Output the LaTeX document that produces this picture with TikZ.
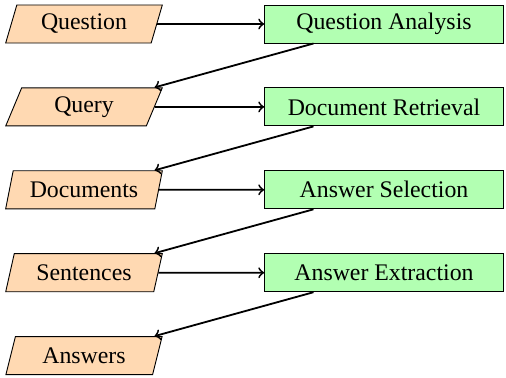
\documentclass[tikz,border=0pt]{standalone}
\usepackage{fontspec}
\setmainfont{Liberation Serif}
\usetikzlibrary{shapes.geometric}
\begin{document}
\begin{tikzpicture}[
    data/.style={trapezium, trapezium left angle=70, trapezium right angle=110,
      trapezium stretches=true, draw, fill=orange!30,
      minimum width=2.43cm, minimum height=0.59cm, inner sep=0pt,
      font=\fontsize{10.5}{12}\selectfont},
    task/.style={rectangle, draw, fill=green!30,
      minimum width=3.7cm, minimum height=0.59cm, inner sep=0pt,
      font=\fontsize{10.5}{12}\selectfont},
    flow/.style={->, thick}
  ]
      \useasboundingbox (-1.302,0.372) rectangle (6.541,-5.472);
      \node[data] (question) at (0,0) {Question};
      \node[data] (query) at (0,-1.285) {Query};
      \node[data] (documents) at (0,-2.57) {Documents};
      \node[data] (sentences) at (0,-3.855) {Sentences};
      \node[data] (answers) at (0,-5.14) {Answers};
      \node[task] (analysis) at (4.65,0) {Question Analysis};
      \node[task] (retrieval) at (4.65,-1.285) {Document Retrieval};
      \node[task] (selection) at (4.65,-2.57) {Answer Selection};
      \node[task] (extraction) at (4.65,-3.855) {Answer Extraction};
      \draw[flow] (question) -- (analysis);
      \draw[flow] (analysis) -- (query);
      \draw[flow] (query) -- (retrieval);
      \draw[flow] (retrieval) -- (documents);
      \draw[flow] (documents) -- (selection);
      \draw[flow] (selection) -- (sentences);
      \draw[flow] (sentences) -- (extraction);
      \draw[flow] (extraction) -- (answers);
\end{tikzpicture}
\end{document}
